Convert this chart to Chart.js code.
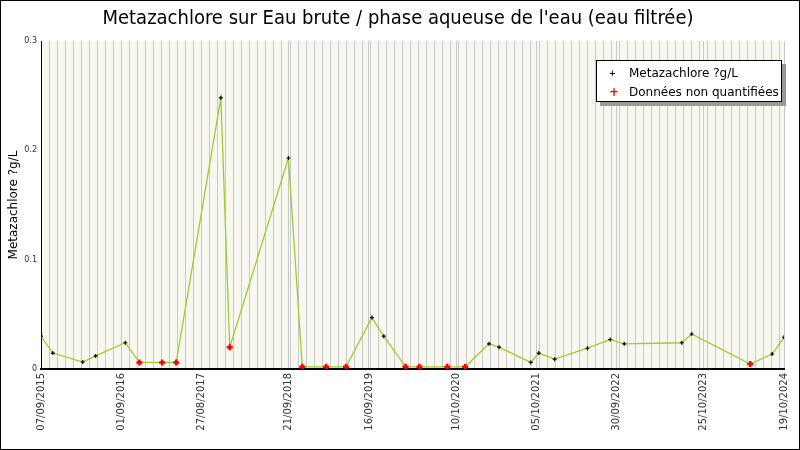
<!DOCTYPE html>
<html>
<head>
<meta charset="utf-8">
<script src="https://cdn.jsdelivr.net/npm/chart.js@4"></script>
<style>
  body { margin: 0; background: #fff; }
  #wrap { position: relative; width: 800px; height: 450px; }
  #legende {
    position: absolute; left: 596px; top: 60px; width: 186px; height: 42px;
    border: 1px solid #000; background: #fff; box-shadow: 4px 4px 0 #999;
    font: 12px "DejaVu Sans", sans-serif; line-height: 19px; padding-top: 3px; box-sizing: border-box;
  }
  #legende div { padding-left: 32px; position: relative; }
  #legende span { position: absolute; left: 12px; font-weight: bold; }
</style>
</head>
<body>
<div id="wrap">
  <canvas id="bieuDo" width="800" height="450"></canvas>
  <div id="legende">
    <div><span style="color:#000;font-size:8px">+</span>Metazachlore ?g/L</div>
    <div><span style="color:#f00">+</span>Données non quantifiées</div>
  </div>
</div>
<script>
// jours depuis le 07/09/2015
const jours = [0, 53, 187, 245, 378, 441, 543, 606, 806, 846, 1109, 1171, 1278, 1367, 1483, 1536, 1634,
  1696, 1821, 1901, 2008, 2053, 2195, 2231, 2302, 2449, 2551, 2614, 2872, 2916, 3179, 3277, 3330];
const valeurs = [0.030, 0.0146, 0.0064, 0.012, 0.024, 0.006, 0.006, 0.006, 0.248, 0.020, 0.193, 0.002, 0.002, 0.002, 0.047, 0.030, 0.002,
  0.002, 0.002, 0.002, 0.023, 0.020, 0.006, 0.0146, 0.009, 0.019, 0.027, 0.023, 0.024, 0.032, 0.0046, 0.0137, 0.029];
const nonQuantifie = [0, 0, 0, 0, 0, 1, 1, 1, 0, 1, 0, 1, 1, 1, 0, 0, 1,
  1, 1, 1, 0, 0, 0, 0, 0, 0, 0, 0, 0, 0, 1, 0, 0];
const joursEtiquettes = [0, 360, 720, 1110, 1470, 1860, 2220, 2580, 2970, 3330];
const debut = Date.UTC(2015, 8, 7);

function formatDate(j) {
    const d = new Date(debut + j * 86400000);
    const p = n => String(n).padStart(2, '0');
    return p(d.getUTCDate()) + '/' + p(d.getUTCMonth() + 1) + '/' + d.getUTCFullYear();
}

const cadre = {
    id: 'cadre',
    beforeDraw(chart) {
        const { ctx, chartArea: a } = chart;
        ctx.save();
        ctx.fillStyle = '#f8f8f0';
        ctx.fillRect(a.left, a.top, a.right - a.left, a.bottom - a.top);
        ctx.restore();
    },
    afterDraw(chart) {
        const ctx = chart.ctx;
        ctx.save();
        ctx.strokeStyle = '#000';
        ctx.strokeRect(0.5, 0.5, 799, 449);
        ctx.restore();
    }
};

const ctx = document.getElementById('bieuDo').getContext('2d');
new Chart(ctx, {
    type: 'line',
    data: {
        datasets: [{
            data: jours.map((j, i) => ({ x: j, y: valeurs[i] })),
            borderColor: '#9acd32',
            borderWidth: 1.3,
            pointStyle: 'cross',
            pointRadius: nonQuantifie.map(n => n ? 3 : 2),
            pointBorderWidth: nonQuantifie.map(n => n ? 2.5 : 1.2),
            pointBorderColor: nonQuantifie.map(n => n ? '#f00' : '#000'),
            tension: 0
        }]
    },
    options: {
        responsive: false,
        animation: false,
        layout: { padding: { left: 7, right: 11, top: 0, bottom: 0 } },
        plugins: {
            legend: { display: false },
            tooltip: { enabled: false },
            title: {
                display: true,
                text: "Metazachlore sur Eau brute / phase aqueuse de l'eau (eau filtrée)",
                color: '#000',
                font: { family: 'DejaVu Sans Condensed', size: 20, weight: 'normal' },
                padding: { top: 7, bottom: 10 }
            }
        },
        scales: {
            x: {
                type: 'linear',
                min: 0, max: 3330,
                afterFit: s => { s.height = 81; },
                afterBuildTicks: s => {
                    const t = [];
                    for (let j = 0; j <= 3330; j += 36) t.push({ value: j });
                    joursEtiquettes.forEach(j => { if (j % 36) t.push({ value: j }); });
                    t.sort((a, b) => a.value - b.value);
                    s.ticks = t;
                },
                grid: { color: '#c8c8c8', drawTicks: false },
                border: { color: '#000', width: 2 },
                ticks: {
                    autoSkip: false,
                    maxRotation: 90, minRotation: 90,
                    color: '#333',
                    font: { family: 'DejaVu Sans', size: 10 },
                    padding: 4,
                    callback: v => joursEtiquettes.includes(v) ? formatDate(v) : ''
                }
            },
            y: {
                min: 0, max: 0.3,
                afterFit: s => { s.width = 34; },
                grid: { display: false, drawTicks: false },
                border: { color: '#000', width: 1 },
                ticks: {
                    stepSize: 0.1,
                    padding: 4,
                    color: '#333',
                    font: { family: 'DejaVu Sans', size: 8 },
                    callback: v => v === 0 ? '0' : v.toFixed(1)
                },
                title: {
                    display: true,
                    text: 'Metazachlore ?g/L',
                    color: '#000',
                    font: { family: 'DejaVu Sans', size: 12 },
                    padding: 0
                }
            }
        }
    },
    plugins: [cadre]
});
</script>
</body>
</html>
